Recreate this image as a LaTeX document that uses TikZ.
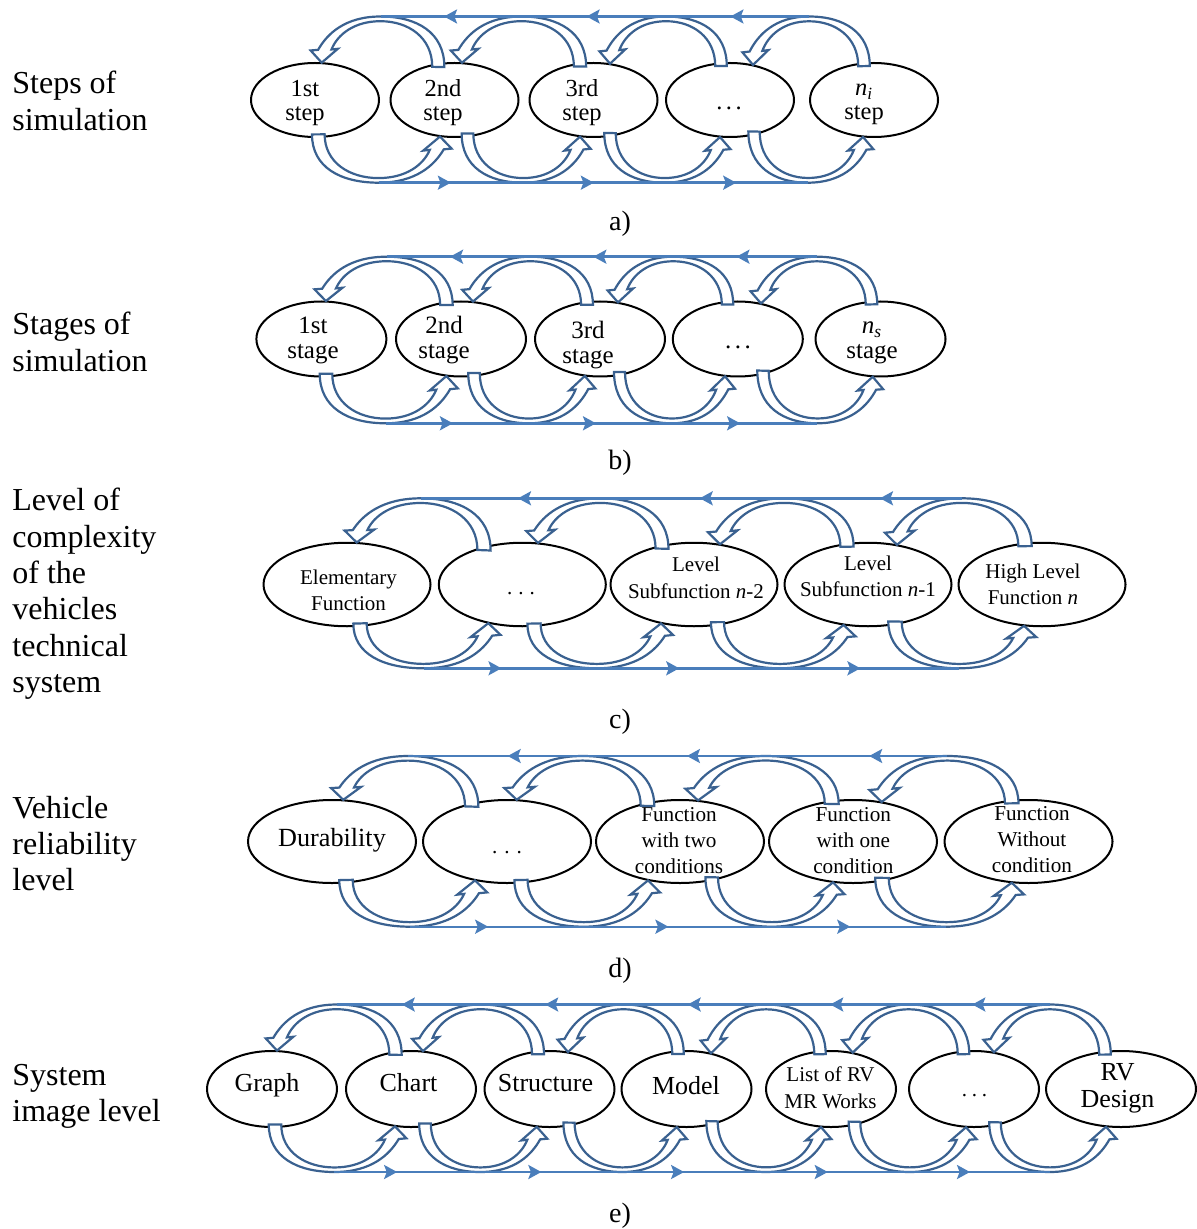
\documentclass[tikz,border=0pt]{standalone}
\usepackage{fontspec}
\setmainfont{Liberation Serif}
\usetikzlibrary{shapes.geometric,arrows.meta,decorations.markings}
\definecolor{arcblue}{HTML}{3A6190}
\definecolor{lineblue}{HTML}{4A7EBB}
\newcommand\mytab[1]{\begin{tabular}[t]{@{}c@{}}#1\end{tabular}}
\newcommand\mytabl[1]{\begin{tabular}[t]{@{}l@{}}#1\end{tabular}}
\newcommand\myfs[2]{\fontsize{#1}{#2}\selectfont}
\newcommand\dotz[1]{.\hspace{#1}.\hspace{#1}.}
\newcommand\mkhp[3]{%
 \pgfmathsetmacro\tmpbase{(\Ys)+(#2)*((\Yt)-(\Ys))}%
 \pgfmathsetmacro\tmpx{(\Xs)+(#2)*((\Xt)-(\Xs))}%
 \pgfmathsetmacro\tmpy{(1-(#3))*(\tmpbase)+(#3)*(\Hc)}%
 \expandafter\edef\csname hp#1\endcsname{(\tmpx pt,\tmpy pt)}}
% #1 start node, #2 start dx (px), #3 tip node, #4 tip dx (px), #5 line y (px), #6 dir (1 top, -1 bottom), #7 peak name
\newcommand\harc[7]{%
 \pgfpointanchor{#1}{center}\pgfgetlastxy{\cSx}{\cSy}%
 \pgfpointanchor{#1}{east}\pgfgetlastxy{\eSx}{\eSy}%
 \pgfpointanchor{#1}{north}\pgfgetlastxy{\nSx}{\nSy}%
 \pgfpointanchor{#3}{center}\pgfgetlastxy{\cTx}{\cTy}%
 \pgfpointanchor{#3}{east}\pgfgetlastxy{\eTx}{\eTy}%
 \pgfpointanchor{#3}{north}\pgfgetlastxy{\nTx}{\nTy}%
 \pgfmathsetmacro\Xs{(\cSx)+(#2)*0.5}%
 \pgfmathsetmacro\Xt{(\cTx)+(#4)*0.5}%
 \pgfmathsetmacro\us{(#2)*0.5/((\eSx)-(\cSx))}%
 \pgfmathsetmacro\ut{(#4)*0.5/((\eTx)-(\cTx))}%
 \pgfmathsetmacro\Ys{(\cSy)+(#6)*((\nSy)-(\cSy))*sqrt(max(0,1-(\us)*(\us)))}%
 \pgfmathsetmacro\Yt{(\cTy)+(#6)*((\nTy)-(\cTy))*sqrt(max(0,1-(\ut)*(\ut)))}%
 \pgfmathsetmacro\Hc{-(#5)*0.5}%
 \mkhp{a}{-0.052}{-0.08}%
 \mkhp{b}{-0.052}{0.653}%
 \mkhp{c}{0.181}{1}%
 \mkhp{d}{0.495}{1}%
 \mkhp{e}{0.804}{1}%
 \mkhp{f}{0.955}{0.612}%
 \mkhp{g}{1.031}{0.27}%
 \mkhp{h}{1.095}{0.255}%
 \mkhp{i}{1}{-0.01}%
 \mkhp{j}{0.862}{0.295}%
 \mkhp{k}{0.916}{0.28}%
 \mkhp{l}{0.863}{0.612}%
 \mkhp{m}{0.720}{0.898}%
 \mkhp{n}{0.495}{0.898}%
 \mkhp{o}{0.257}{0.898}%
 \mkhp{p}{0.052}{0.551}%
 \mkhp{q}{0.052}{-0.08}%
 \edef\tmpcmd{\noexpand\filldraw[arcsty] \hpa\space .. controls \hpb\space and \hpc\space .. \hpd\space coordinate (#7) .. controls \hpe\space and \hpf\space .. \hpg\space -- \hph\space -- \hpi\space -- \hpj\space -- \hpk\space .. controls \hpl\space and \hpm\space .. \hpn\space .. controls \hpo\space and \hpp\space .. \hpq\space -- cycle;}%
 \tmpcmd}
\tikzset{
 ell/.style={ellipse, draw=black, line width=1pt, fill=white, inner sep=0pt},
 ea/.style={ell, minimum width=64pt, minimum height=37pt},
 eb/.style={ell, minimum width=65pt, minimum height=37.5pt},
 ec/.style={ell, minimum width=83.5pt, minimum height=41.75pt},
 ed/.style={ell, minimum width=84pt, minimum height=41.5pt},
 ee/.style={ell, minimum width=65pt, minimum height=38pt},
 txt/.style={anchor=base, inner sep=0pt},
 sidetxt/.style={anchor=base west, inner sep=0pt, font={\myfs{16}{18.2}}},
 captxt/.style={anchor=base, inner sep=0pt, font={\myfs{14}{16}}},
 arcsty/.style={draw=arcblue, line width=1.1pt, fill=white, line join=miter, miter limit=4},
 lnsty/.style={draw=lineblue, line width=1.2pt},
 midarr/.style={postaction={decorate}, decoration={markings, mark=at position #1 with {\arrow{Stealth[length=6.5pt,width=7pt,inset=1.3pt]}}}},
 midarr/.default=0.5
}
\begin{document}
\begin{tikzpicture}[x=0.5pt, y=-0.5pt]
\useasboundingbox (0,0) rectangle (1196,1229);

% ---------- side labels ----------
\node[sidetxt] (la) at (12,94) {\mytabl{Steps of\\simulation}};
\node[sidetxt] (lb) at (12,335) {\mytabl{Stages of\\simulation}};
\node[sidetxt] (lc) at (12,510.7) {\mytabl{Level of\\complexity\\of the\\vehicles\\technical\\system}};
\node[sidetxt] (ld) at (12,818) {\mytabl{Vehicle\\reliability\\level}};
\node[sidetxt] (le) at (12,1085) {\mytabl{System\\image level}};

% ---------- captions ----------
\node[captxt] (capa) at (620,231) {a)};
\node[captxt] (capb) at (620,469) {b)};
\node[captxt] (capc) at (620,728) {c)};
\node[captxt] (capd) at (620,977) {d)};
\node[captxt] (cape) at (620,1222) {e)};

% ---------- row a ----------
\node[ea] (a1) at (315,100) {};
\node[ea] (a2) at (454.5,100) {};
\node[ea] (a3) at (593.5,100) {};
\node[ea] (a4) at (730,100) {};
\node[ea] (a5) at (874,100) {};
\begin{scope}[every node/.append style={txt, font={\myfs{12.25}{12}}}]
\node (a1t) at (305,96.7) {\mytab{1st\\step}};
\node (a2t) at (443,96.7) {\mytab{2nd\\step}};
\node (a3t) at (582,96.7) {\mytab{3rd\\step}};
\node (a4t) at (729,109.5) {\dotz{1.75pt}};
\node (a5t) at (864,95.5) {\mytab{\textit{n\textsubscript{i}}\\step}};
\end{scope}

% ---------- row b ----------
\node[eb] (b1) at (321.4,339) {};
\node[eb] (b2) at (461,339) {};
\node[eb] (b3) at (600,339) {};
\node[eb] (b4) at (737.8,339) {};
\node[eb] (b5) at (880.5,339) {};
\begin{scope}[every node/.append style={txt, font={\myfs{12.5}{12.5}}}]
\node (b1t) at (313,333.5) {\mytab{1st\\stage}};
\node (b2t) at (444,333.5) {\mytab{2nd\\stage}};
\node (b3t) at (588,339) {\mytab{3rd\\stage}};
\node (b4t) at (738,349) {\dotz{1.75pt}};
\node (b5t) at (872,333.5) {\mytab{\textit{n\textsubscript{s}}\\stage}};
\end{scope}

% ---------- row c ----------
\node[ec] (c1) at (347,584.5) {};
\node[ec] (c2) at (522.3,584.5) {};
\node[ec] (c3) at (694,584.5) {};
\node[ec] (c4) at (868,584.5) {};
\node[ec] (c5) at (1042,584.5) {};
\begin{scope}[every node/.append style={txt, font={\myfs{10.5}{13.3}}}]
\node (c1t) at (348.5,584) {\mytab{Elementary\\Function}};
\node (c2t) at (521,594.5) {\dotz{3pt}};
\node (c3t) at (696,571.7) {\mytab{Level\\Subfunction \textit{n}-2}};
\node (c4t) at (868,570) {\mytab{Level\\Subfunction \textit{n}-1}};
\node (c5t) at (1033,578.3) {\mytab{High Level\\Function \textit{n}}};
\end{scope}

% ---------- row d ----------
\node[ed] (d1) at (332,841.5) {};
\node[ed] (d2) at (507,841.5) {};
\node[ed] (d3) at (680,841.5) {};
\node[ed] (d4) at (853,841.5) {};
\node[ed] (d5) at (1028.5,841.5) {};
\node[txt, font={\myfs{13.1}{13.1}}] (d1t) at (332,846) {Durability};
\begin{scope}[every node/.append style={txt, font={\myfs{10.6}{13}}}]
\node (d2t) at (507,853) {\dotz{3.5pt}};
\node (d3t) at (679,821) {\mytab{Function\\with two\\conditions}};
\node (d4t) at (853.3,821.7) {\mytab{Function\\with one\\condition}};
\node (d5t) at (1032,820) {\mytab{Function\\Without\\condition}};
\end{scope}

% ---------- row e ----------
\node[ee] (e1) at (272,1089) {};
\node[ee] (e2) at (411,1089) {};
\node[ee] (e3) at (549.5,1089) {};
\node[ee] (e4) at (686.5,1089) {};
\node[ee] (e5) at (831,1089) {};
\node[ee] (e6) at (974,1089) {};
\node[ee, minimum width=75pt] (e7) at (1121,1089) {};
\begin{scope}[every node/.append style={txt, font={\myfs{13}{13.6}}}]
\node (e1t) at (267,1091) {Graph};
\node (e2t) at (408.5,1091) {Chart};
\node (e3t) at (545.5,1091) {Structure};
\node (e4t) at (686,1094) {Model};
\node (e7t) at (1117.5,1080) {\mytab{RV\\Design}};
\end{scope}
\node[txt, font={\myfs{10.5}{13.3}}] (e5t) at (830.5,1081.7) {\mytab{List of RV\\MR Works}};
\node[txt, font={\myfs{10.5}{13.3}}] (e6t) at (974.5,1096) {\dotz{2.4pt}};

% ---------- hollow curved arrows ----------
% row a
\harc{a2}{-16.2}{a1}{6.7}{16.5}{1}{ta1}
\harc{a3}{-13.5}{a2}{7.5}{16.5}{1}{ta2}
\harc{a4}{-9}{a3}{16.5}{16.5}{1}{ta3}
\harc{a5}{-10}{a4}{23}{16.5}{1}{ta4}
\harc{a1}{3.3}{a2}{-14.5}{182.7}{-1}{ba1}
\harc{a2}{13}{a3}{-13.5}{182.7}{-1}{ba2}
\harc{a3}{16.5}{a4}{-10}{182.7}{-1}{ba3}
\harc{a4}{24}{a5}{-11}{182.7}{-1}{ba4}
% row b
\harc{b2}{-14.6}{b1}{4.5}{256.7}{1}{tb1}
\harc{b3}{-13}{b2}{12}{256.7}{1}{tb2}
\harc{b4}{-10.3}{b3}{18}{256.7}{1}{tb3}
\harc{b5}{-9}{b4}{23.2}{256.7}{1}{tb4}
\harc{b1}{4.6}{b2}{-14.6}{423.3}{-1}{bb1}
\harc{b2}{13}{b3}{-15.2}{423.3}{-1}{bb2}
\harc{b3}{19.5}{b4}{-12.8}{423.3}{-1}{bb3}
\harc{b4}{25.2}{b5}{-7.8}{423.3}{-1}{bb4}
% row c
\harc{c2}{-38.3}{c1}{9.7}{498.3}{1}{tc1}
\harc{c3}{-32}{c2}{15.7}{498.3}{1}{tc2}
\harc{c4}{-21}{c3}{26}{498.3}{1}{tc3}
\harc{c5}{-17}{c4}{29}{498.3}{1}{tc4}
\harc{c1}{13}{c2}{-34}{668.3}{-1}{bc1}
\harc{c2}{11.7}{c3}{-33}{668.3}{-1}{bc2}
\harc{c3}{23.5}{c4}{-24.4}{668.3}{-1}{bc3}
\harc{c4}{27}{c5}{-18}{668.3}{-1}{bc4}
% row d
\harc{d2}{-35.3}{d1}{11.3}{756}{1}{td1}
\harc{d3}{-32.5}{d2}{9.7}{756}{1}{td2}
\harc{d4}{-21.3}{d3}{18}{756}{1}{td3}
\harc{d5}{-16.8}{d4}{28.7}{756}{1}{td4}
\harc{d1}{14}{d2}{-32}{926.7}{-1}{bd1}
\harc{d2}{14}{d3}{-32}{926.7}{-1}{bd2}
\harc{d3}{31.7}{d4}{-20}{926.7}{-1}{bd3}
\harc{d4}{29}{d5}{-16.8}{926.7}{-1}{bd4}
% row e
\harc{e2}{-15.5}{e1}{5}{1004.5}{1}{te1}
\harc{e3}{-11.5}{e2}{12}{1004.5}{1}{te2}
\harc{e4}{-8.5}{e3}{18.5}{1004.5}{1}{te3}
\harc{e5}{-11}{e4}{24.5}{1004.5}{1}{te4}
\harc{e6}{-10.5}{e5}{21.7}{1004.5}{1}{te5}
\harc{e7}{-16}{e6}{20}{1004.5}{1}{te6}
\harc{e1}{3}{e2}{-16}{1172}{-1}{be1}
\harc{e2}{14}{e3}{-12.8}{1172}{-1}{be2}
\harc{e3}{19.5}{e4}{-9.8}{1172}{-1}{be3}
\harc{e4}{25.5}{e5}{-10}{1172}{-1}{be4}
\harc{e5}{23.5}{e6}{-8}{1172}{-1}{be5}
\harc{e6}{21}{e7}{-15}{1172}{-1}{be6}

% ---------- straight return / forward lines ----------
\draw[lnsty, midarr=0.55] (ta2) -- (ta1);
\draw[lnsty, midarr=0.55] (ta3) -- (ta2);
\draw[lnsty, midarr=0.55] (ta4) -- (ta3);
\draw[lnsty, midarr=0.5] (ba1) -- (ba2);
\draw[lnsty, midarr=0.5] (ba2) -- (ba3);
\draw[lnsty, midarr=0.5] (ba3) -- (ba4);

\draw[lnsty, midarr=0.56] (tb2) -- (tb1);
\draw[lnsty, midarr=0.56] (tb3) -- (tb2);
\draw[lnsty, midarr=0.56] (tb4) -- (tb3);
\draw[lnsty, midarr=0.47] (bb1) -- (bb2);
\draw[lnsty, midarr=0.47] (bb2) -- (bb3);
\draw[lnsty, midarr=0.47] (bb3) -- (bb4);

\draw[lnsty, midarr=0.46] (tc2) -- (tc1);
\draw[lnsty, midarr=0.46] (tc3) -- (tc2);
\draw[lnsty, midarr=0.46] (tc4) -- (tc3);
\draw[lnsty, midarr=0.45] (bc1) -- (bc2);
\draw[lnsty, midarr=0.45] (bc2) -- (bc3);
\draw[lnsty, midarr=0.45] (bc3) -- (bc4);

\draw[lnsty, midarr=0.43] (td2) -- (td1);
\draw[lnsty, midarr=0.43] (td3) -- (td2);
\draw[lnsty, midarr=0.43] (td4) -- (td3);
\draw[lnsty, midarr=0.45] (bd1) -- (bd2);
\draw[lnsty, midarr=0.45] (bd2) -- (bd3);
\draw[lnsty, midarr=0.45] (bd3) -- (bd4);

\draw[lnsty, midarr=0.55] (te2) -- (te1);
\draw[lnsty, midarr=0.55] (te3) -- (te2);
\draw[lnsty, midarr=0.55] (te4) -- (te3);
\draw[lnsty, midarr=0.55] (te5) -- (te4);
\draw[lnsty, midarr=0.55] (te6) -- (te5);
\draw[lnsty, midarr=0.43] (be1) -- (be2);
\draw[lnsty, midarr=0.43] (be2) -- (be3);
\draw[lnsty, midarr=0.43] (be3) -- (be4);
\draw[lnsty, midarr=0.43] (be4) -- (be5);
\draw[lnsty, midarr=0.43] (be5) -- (be6);
\end{tikzpicture}
\end{document}
